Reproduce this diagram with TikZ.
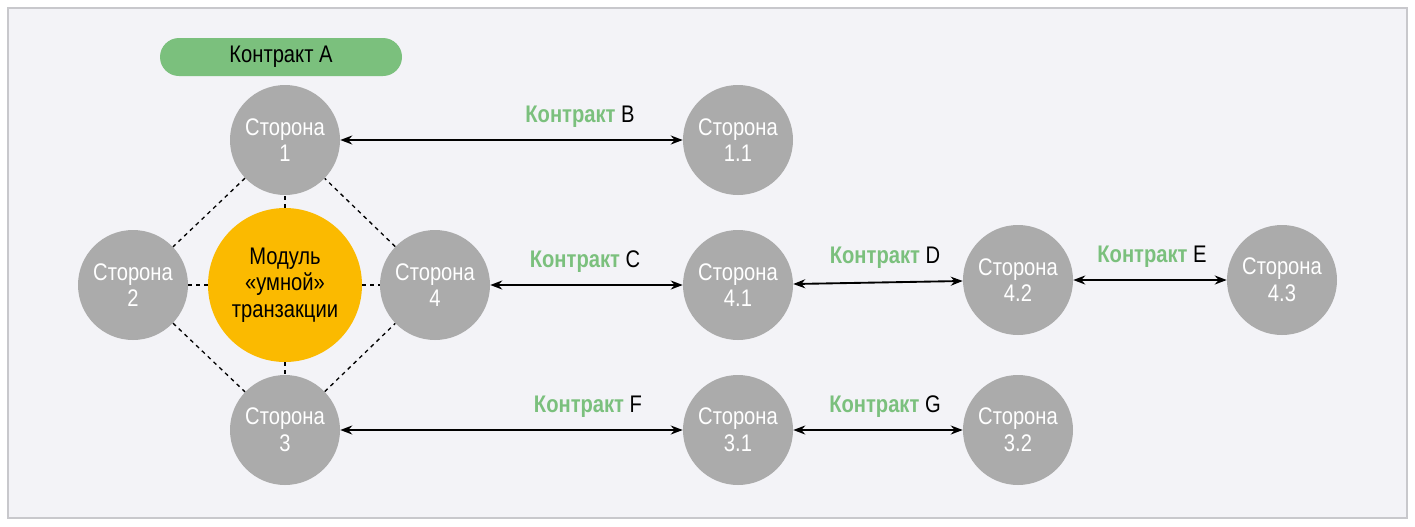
\documentclass[tikz,border=0pt]{standalone}
\usepackage{fontspec}
\setmainfont[FakeStretch=0.84]{Liberation Sans}
\usetikzlibrary{arrows.meta}
\definecolor{bg}{HTML}{F3F3F7}
\definecolor{frame}{HTML}{C8C8CC}
\definecolor{party}{HTML}{ABABAB}
\definecolor{gold}{HTML}{FBBA00}
\definecolor{cgreen}{HTML}{7BC07D}
\tikzset{
  party/.style={circle,fill=party,minimum size=110*0.75pt,inner sep=0pt,text=white,align=center,font=\fontsize{18}{20}\selectfont},
  module/.style={circle,fill=gold,minimum size=154*0.75pt,inner sep=0pt,align=center,font=\fontsize{18}{20}\selectfont},
  dline/.style={dashed,line width=1pt},
  link/.style={{Stealth[length=9pt]}-{Stealth[length=9pt]},line width=1.4pt},
  clabel/.style={font=\fontsize{18}{20}\selectfont,inner sep=1pt}
}
\newcommand{\ctr}[1]{{\bfseries\color{cgreen}Контракт} #1}
\begin{document}
\begin{tikzpicture}[x=0.75pt,y=-0.75pt]
\useasboundingbox (0,0) rectangle (1415,526);
\fill[white] (0,0) rectangle (1415,526);
\draw[frame,fill=bg,line width=1pt] (8,8) rectangle (1407,518);
\node[fill=cgreen,rounded corners=19*0.75pt,minimum width=242*0.75pt,minimum height=38*0.75pt,font=\fontsize{18}{20}\selectfont] (A) at (281,57) {Контракт A};
\node[party] (s1) at (285,140) {Сторона\\1};
\node[party] (s2) at (133,285) {Сторона\\2};
\node[module] (m) at (285,285) {Модуль\\«умной»\\транзакции};
\node[party] (s4) at (435,285) {Сторона\\4};
\node[party] (s3) at (285,430) {Сторона\\3};
\node[party] (s11) at (738,140) {Сторона\\1.1};
\node[party] (s41) at (738,285) {Сторона\\4.1};
\node[party] (s42) at (1018,280) {Сторона\\4.2};
\node[party] (s43) at (1282,280) {Сторона\\4.3};
\node[party] (s31) at (738,430) {Сторона\\3.1};
\node[party] (s32) at (1018,430) {Сторона\\3.2};
\draw[dline] (s1) -- (s2); \draw[dline] (s2) -- (s3);
\draw[dline] (s3) -- (s4); \draw[dline] (s4) -- (s1);
\draw[dline] (m) -- (s1); \draw[dline] (m) -- (s2);
\draw[dline] (m) -- (s3); \draw[dline] (m) -- (s4);
\draw[link] (s1) -- (s11);
\draw[link] (s4) -- (s41);
\draw[link] (s41) -- (s42);
\draw[link] (s42) -- (s43);
\draw[link] (s3) -- (s31);
\draw[link] (s31) -- (s32);
\node[clabel] (lb) at (580,117) {\ctr{B}};
\node[clabel] (lc) at (585,262) {\ctr{C}};
\node[clabel] (ld) at (885,258) {\ctr{D}};
\node[clabel] (le) at (1152,257) {\ctr{E}};
\node[clabel] (lf) at (588,407) {\ctr{F}};
\node[clabel] (lg) at (885,407) {\ctr{G}};
\end{tikzpicture}
\end{document}
